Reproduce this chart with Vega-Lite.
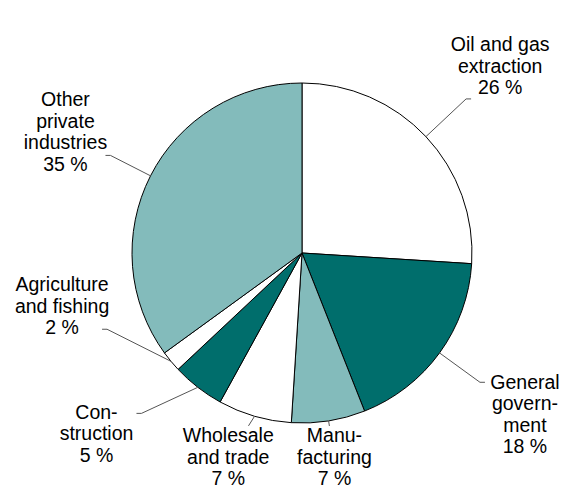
{
  "$schema": "https://vega.github.io/schema/vega-lite/v6.json",
  "width": 542,
  "height": 484,
  "autosize": {"type": "none"},
  "padding": {"left": 31, "top": 11, "right": 0, "bottom": 0},
  "background": "white",
  "config": {"view": {"stroke": null}},
  "data": {
    "values": [
      {"category": "Oil and gas\nextraction", "value": 26},
      {"category": "General\ngovern-\nment", "value": 18},
      {"category": "Manu-\nfacturing", "value": 7},
      {"category": "Wholesale\nand trade", "value": 7},
      {"category": "Con-\nstruction", "value": 5},
      {"category": "Agriculture\nand fishing", "value": 2},
      {"category": "Other\nprivate\nindustries", "value": 35}
    ]
  },
  "transform": [
    {"window": [{"op": "row_number", "as": "i"}]},
    {"stack": "value", "groupby": [], "sort": [{"field": "i", "order": "ascending"}], "as": ["v0", "v1"]},
    {"calculate": "(datum.v0 + datum.v1) / 2", "as": "m"},
    {"calculate": "datum.m - 8 * datum.i", "as": "t"},
    {"window": [{"op": "max", "field": "t", "as": "cm"}], "sort": [{"field": "i", "order": "ascending"}], "frame": [null, 0]},
    {"calculate": "8 * datum.i + datum.cm", "as": "lp"},
    {"calculate": "datum.category + '\\n' + datum.value + ' %'", "as": "txt"},
    {"calculate": "length(split(datum.txt, '\\n'))", "as": "nl"},
    {"calculate": "170 * sin(datum.m * PI / 50)", "as": "ex"},
    {"calculate": "-170 * cos(datum.m * PI / 50)", "as": "ey"},
    {"calculate": "1 / pow(pow(abs(sin(datum.lp * PI / 50)) / 240, 5) + pow(abs(cos(datum.lp * PI / 50)) / 205, 5), 0.2)", "as": "tt"},
    {"calculate": "datum.tt * sin(datum.lp * PI / 50)", "as": "cx"},
    {"calculate": "-datum.tt * cos(datum.lp * PI / 50)", "as": "cy"},
    {"calculate": "max(0, 1 - min(45 / max(abs(datum.cx - datum.ex), 0.001), (11 * datum.nl - 1) / max(abs(datum.cy - datum.ey), 0.001)))", "as": "u"},
    {"calculate": "datum.ex + datum.u * (datum.cx - datum.ex)", "as": "lx"},
    {"calculate": "datum.ey + datum.u * (datum.cy - datum.ey)", "as": "ly"},
    {"calculate": "abs(datum.cx - datum.lx) > 30 ? datum.lx + (datum.cx > datum.lx ? 5 : -5) : datum.lx", "as": "tx"},
    {"calculate": "datum.cy - (datum.nl - 1) * 21.5 / 2", "as": "ty"}
  ],
  "layer": [
    {
      "mark": {"type": "arc", "outerRadius": 170, "stroke": "#000000", "strokeWidth": 1},
      "encoding": {
        "theta": {"field": "v0", "type": "quantitative", "stack": null, "scale": {"domain": [0, 100], "range": [0, 6.283185307]}},
        "theta2": {"field": "v1"},
        "color": {
          "field": "category",
          "type": "nominal",
          "legend": null,
          "scale": {
            "domain": ["Oil and gas\nextraction", "General\ngovern-\nment", "Manu-\nfacturing", "Wholesale\nand trade", "Con-\nstruction", "Agriculture\nand fishing", "Other\nprivate\nindustries"],
            "range": ["#ffffff", "#006e6c", "#83bbbb", "#ffffff", "#006e6c", "#ffffff", "#83bbbb"]
          }
        }
      }
    },
    {
      "mark": {"type": "rule", "stroke": "#555555", "strokeWidth": 1},
      "encoding": {
        "x": {"field": "ex", "type": "quantitative", "axis": null, "scale": {"domain": [-271, 271], "nice": false, "zero": false}},
        "y": {"field": "ey", "type": "quantitative", "axis": null, "scale": {"domain": [-242, 242], "reverse": true, "nice": false, "zero": false}},
        "x2": {"field": "lx"},
        "y2": {"field": "ly"}
      }
    },
    {
      "mark": {"type": "rule", "stroke": "#555555", "strokeWidth": 1},
      "encoding": {
        "x": {"field": "lx", "type": "quantitative"},
        "y": {"field": "ly", "type": "quantitative"},
        "x2": {"field": "tx"}
      }
    },
    {
      "mark": {"type": "text", "font": "Liberation Sans", "fontSize": 19.5, "lineHeight": 21.5, "lineBreak": "\n", "align": "center", "baseline": "middle", "color": "#000000"},
      "encoding": {
        "x": {"field": "cx", "type": "quantitative"},
        "y": {"field": "ty", "type": "quantitative"},
        "text": {"field": "txt"}
      }
    }
  ]
}
